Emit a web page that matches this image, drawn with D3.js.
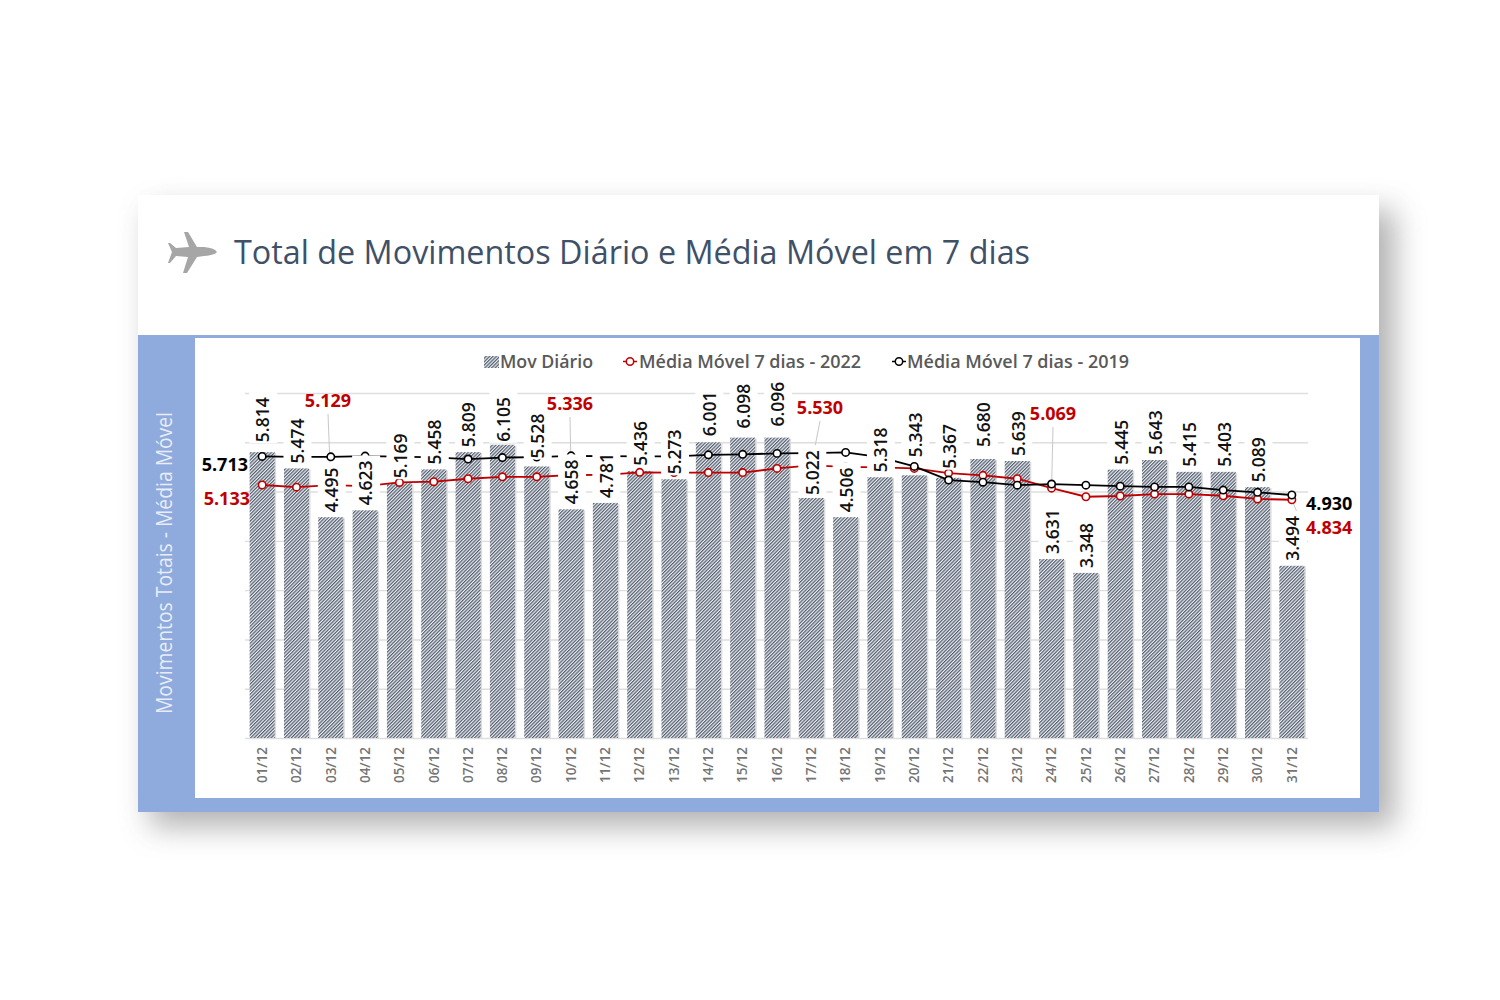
<!DOCTYPE html>
<html>
<head>
<meta charset="utf-8">
<script src="https://cdn.jsdelivr.net/npm/d3@7"></script>
<style>
  body { margin: 0; background: #fff; }
  text { font-family: "Open Sans", sans-serif; }
</style>
</head>
<body>
<svg id="chart" width="1500" height="1000"></svg>
<script>
var dias = ['01/12','02/12','03/12','04/12','05/12','06/12','07/12','08/12','09/12','10/12','11/12','12/12','13/12','14/12','15/12','16/12','17/12','18/12','19/12','20/12','21/12','22/12','23/12','24/12','25/12','26/12','27/12','28/12','29/12','30/12','31/12'];

// rótulos impressos no gráfico
var rotulosMov = ['5.814','5.474','4.495','4.623','5.169','5.458','5.809','6.105','5.528','4.658','4.781','5.436','5.273','6.001','6.098','6.096','5.022','4.506','5.318','5.343','5.367','5.680','5.639','3.631','3.348','5.445','5.643','5.415','5.403','5.089','3.494'];

// altura das barras como desenhadas (nem sempre igual ao rótulo)
var movDiario = [5800,5470,4480,4620,5170,5450,5800,5950,5510,4640,4770,5420,5250,6000,6095,6095,4870,4480,5290,5330,5280,5660,5620,3630,3350,5445,5640,5400,5400,5090,3494];

var media2022 = [5133,5090,5129,5110,5185,5200,5260,5300,5300,5336,5340,5390,5385,5385,5385,5470,5530,5500,5490,5470,5375,5330,5260,5069,4895,4910,4950,4950,4915,4850,4834];
var media2019 = [5713,5705,5705,5720,5710,5695,5660,5690,5700,5725,5720,5715,5715,5745,5755,5775,5780,5795,5700,5510,5234,5190,5130,5153,5130,5110,5095,5095,5030,4985,4930];

var ticksY = [0,1000,2000,3000,4000,5000,6000,7000];

// rótulos que ficam mais afastados da barra (px)
var afastamento = {'01/12':10,'07/12':5,'08/12':3,'09/12':8,'14/12':6,'15/12':9,'16/12':11,'17/12':3,'20/12':18,'21/12':9,'22/12':12};

var svg = d3.select('#chart');
var defs = svg.append('defs');

// sombra do slide
defs.append('filter').attr('id', 'sombra')
  .attr('x', '-10%').attr('y', '-15%').attr('width', '120%').attr('height', '130%')
  .append('feGaussianBlur').attr('stdDeviation', 15);

// hachura das barras
var hachura = defs.append('pattern').attr('id', 'hachura')
  .attr('width', 2.4).attr('height', 2.4)
  .attr('patternUnits', 'userSpaceOnUse')
  .attr('patternTransform', 'rotate(-45)');
hachura.append('rect').attr('width', 2.4).attr('height', 2.4).attr('fill', '#eceef0');
hachura.append('rect').attr('width', 2.4).attr('height', 1.2).attr('fill', '#525d6f');

// Slide
svg.append('rect').attr('x', 150).attr('y', 210).attr('width', 1245).attr('height', 617)
  .attr('fill', '#666').attr('opacity', 0.5).attr('filter', 'url(#sombra)');
svg.append('rect').attr('x', 138).attr('y', 195).attr('width', 1241).attr('height', 617).attr('fill', '#fff');
svg.append('rect').attr('x', 138).attr('y', 335).attr('width', 1241).attr('height', 477).attr('fill', '#8faadc');
svg.append('rect').attr('x', 195).attr('y', 338).attr('width', 1165).attr('height', 460).attr('fill', '#fff');

// Avião
svg.append('path')
  .attr('d', 'M217,252 Q215,248 204,247 L197,247 L188,232 L184,232 L189,247 L176,248 L170,243 L168,243 L172,252 L168,263 L170,263 L176,256 L188,257 L183,273 L187,273 L197,257 L204,256 Q215,255 217,252 Z')
  .attr('fill', '#a6a6a6');

// Título
svg.append('text')
  .attr('x', 234).attr('y', 264)
  .attr('textLength', 796).attr('lengthAdjust', 'spacingAndGlyphs')
  .attr('font-size', 33).attr('font-weight', 500).attr('fill', '#3f5069')
  .text('Total de Movimentos Diário e Média Móvel em 7 dias');

// Título do eixo
svg.append('text')
  .attr('transform', 'translate(172,563) rotate(-90)')
  .attr('text-anchor', 'middle')
  .attr('textLength', 302).attr('lengthAdjust', 'spacingAndGlyphs')
  .attr('font-size', 21).attr('fill', '#e8edf8')
  .text('Movimentos Totais - Média Móvel');

// Escalas
var x = d3.scaleBand().domain(dias).range([245, 1309]).paddingInner(0.27).paddingOuter(0.135);
var y = d3.scaleLinear().domain([0, 7000]).range([738, 393]);
var centro = function(d) { return x(d) + x.bandwidth() / 2; };

// Grade
var grade = svg.append('g').attr('transform', 'translate(245,0)')
  .call(d3.axisLeft(y).tickValues(ticksY).tickSize(-1063).tickFormat(''));
grade.select('.domain').remove();
grade.selectAll('line').attr('stroke', '#dedede').attr('stroke-width', 1.4);

// Barras
svg.append('g').selectAll('rect.sombra').data(dias).join('rect')
  .attr('x', function(d) { return x(d) + 1.5; })
  .attr('y', function(d, i) { return y(movDiario[i]) + 1; })
  .attr('width', x.bandwidth())
  .attr('height', function(d, i) { return y(0) - y(movDiario[i]) - 1; })
  .attr('fill', '#dcdcdc');
svg.append('g').selectAll('rect.barra').data(dias).join('rect')
  .attr('x', function(d) { return x(d); })
  .attr('y', function(d, i) { return y(movDiario[i]); })
  .attr('width', x.bandwidth())
  .attr('height', function(d, i) { return y(0) - y(movDiario[i]); })
  .attr('fill', 'url(#hachura)');

// Eixo X
var eixoX = svg.append('g').attr('transform', 'translate(0,738)')
  .call(d3.axisBottom(x).tickSize(0));
eixoX.select('.domain').remove();
eixoX.selectAll('text')
  .attr('transform', 'translate(0,27) rotate(-90)')
  .attr('text-anchor', 'middle')
  .attr('x', 0).attr('y', 0).attr('dy', '0.35em')
  .attr('font-size', 13.5).attr('font-weight', 600)
  .attr('font-family', '"Open Sans", sans-serif')
  .attr('fill', '#757575');

// Linhas de chamada
var chamadas = [
  { dia: '03/12', valor: '5.129', cx: 328, cy: 401 },
  { dia: '10/12', valor: '5.336', cx: 570, cy: 404 },
  { dia: '17/12', valor: '5.530', cx: 820, cy: 408 },
  { dia: '24/12', valor: '5.069', cx: 1053, cy: 414 }
];
svg.append('g').selectAll('line').data(chamadas).join('line')
  .attr('x1', function(d) { return d.cx; })
  .attr('y1', function(d) { return d.cy + 13; })
  .attr('x2', function(d) { return centro(d.dia); })
  .attr('y2', function(d) { return y(media2022[dias.indexOf(d.dia)]); })
  .attr('stroke', '#c8c8c8').attr('stroke-width', 1);
svg.append('line')
  .attr('x1', centro('31/12')).attr('y1', y(4834))
  .attr('x2', 1303).attr('y2', 527)
  .attr('stroke', '#c8c8c8').attr('stroke-width', 1);

// Médias móveis
function desenhaLinha(valores, cor) {
  var linha = d3.line()
    .x(function(d, i) { return centro(dias[i]); })
    .y(function(d) { return y(d); });
  svg.append('path').datum(valores)
    .attr('d', linha)
    .attr('fill', 'none').attr('stroke', cor).attr('stroke-width', 1.8);
  svg.append('g').selectAll('circle').data(valores).join('circle')
    .attr('cx', function(d, i) { return centro(dias[i]); })
    .attr('cy', function(d) { return y(d); })
    .attr('r', 3.7)
    .attr('fill', '#fff').attr('stroke', cor).attr('stroke-width', 1.6);
}
desenhaLinha(media2022, '#c00000');
desenhaLinha(media2019, '#000');

// Rótulos das barras, com fundo branco que corta as linhas
var rotulos = svg.append('g').selectAll('g').data(dias).join('g')
  .attr('transform', function(d, i) {
    var folga = afastamento[d] !== undefined ? afastamento[d] : 5;
    return 'translate(' + (centro(d) + 1) + ',' + (y(movDiario[i]) - folga) + ') rotate(-90)';
  });
var textos = rotulos.append('text')
  .attr('dy', '0.36em')
  .attr('font-size', 17.5).attr('font-weight', 600).attr('fill', '#111')
  .text(function(d, i) { return rotulosMov[i]; });
rotulos.insert('rect', 'text')
  .attr('x', -1).attr('y', -14).attr('height', 28)
  .attr('width', function(d, i) { return textos.nodes()[i].getComputedTextLength() + 6; })
  .attr('fill', '#fff');

// Rótulos das médias
var rotulosMedia = chamadas.map(function(d) {
  return { texto: d.valor, x: d.cx, y: d.cy, cor: '#c00000', ancora: 'middle' };
}).concat([
  { texto: '5.713', x: 248, y: 465, cor: '#000', ancora: 'end' },
  { texto: '5.133', x: 250, y: 499, cor: '#c00000', ancora: 'end' },
  { texto: '4.930', x: 1306, y: 504, cor: '#000', ancora: 'start' },
  { texto: '4.834', x: 1306, y: 528, cor: '#c00000', ancora: 'start' }
]);
svg.append('g').selectAll('text').data(rotulosMedia).join('text')
  .attr('x', function(d) { return d.x; })
  .attr('y', function(d) { return d.y; })
  .attr('dy', '0.36em')
  .attr('text-anchor', function(d) { return d.ancora; })
  .attr('font-size', 18).attr('font-weight', 700)
  .attr('fill', function(d) { return d.cor; })
  .text(function(d) { return d.texto; });

// Legenda
var legenda = svg.append('g');
legenda.append('rect').attr('x', 484).attr('y', 356).attr('width', 15).attr('height', 12).attr('fill', 'url(#hachura)');
[{ x: 630, cor: '#c00000' }, { x: 899, cor: '#000' }].forEach(function(l) {
  legenda.append('line').attr('x1', l.x - 7).attr('x2', l.x + 7).attr('y1', 361.5).attr('y2', 361.5)
    .attr('stroke', l.cor).attr('stroke-width', 1.5);
  legenda.append('circle').attr('cx', l.x).attr('cy', 361.5).attr('r', 3.7)
    .attr('fill', '#fff').attr('stroke', l.cor).attr('stroke-width', 1.5);
});
[{ x: 500, w: 93, t: 'Mov Diário' },
 { x: 639, w: 222, t: 'Média Móvel 7 dias - 2022' },
 { x: 907, w: 222, t: 'Média Móvel 7 dias - 2019' }].forEach(function(l) {
  legenda.append('text')
    .attr('x', l.x).attr('y', 368)
    .attr('textLength', l.w).attr('lengthAdjust', 'spacingAndGlyphs')
    .attr('font-size', 18.5).attr('font-weight', 600).attr('fill', '#595959')
    .text(l.t);
});
</script>
</body>
</html>
